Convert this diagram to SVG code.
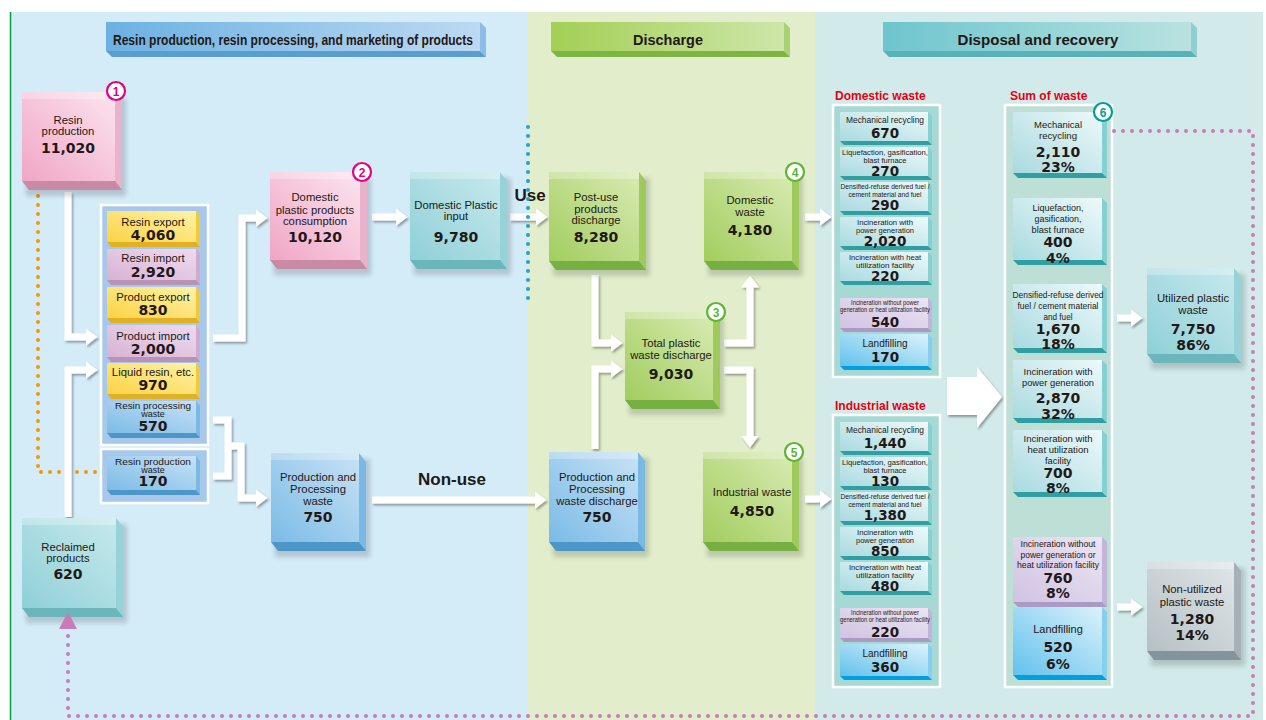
<svg xmlns="http://www.w3.org/2000/svg" width="1266" height="720" viewBox="0 0 1266 720">
<defs>
<linearGradient id="gPk" x1="1" y1="0" x2="0" y2="1"><stop offset="0" stop-color="#fce4ef"/><stop offset="1" stop-color="#f0a6c6"/></linearGradient>
<linearGradient id="gTl" x1="1" y1="0" x2="0" y2="1"><stop offset="0" stop-color="#c6e9ed"/><stop offset="1" stop-color="#8fd0d7"/></linearGradient>
<linearGradient id="gGr" x1="1" y1="0" x2="0" y2="1"><stop offset="0" stop-color="#d8ebb3"/><stop offset="1" stop-color="#a2cd5e"/></linearGradient>
<linearGradient id="gBl" x1="1" y1="0" x2="0" y2="1"><stop offset="0" stop-color="#c8e2f5"/><stop offset="1" stop-color="#7bbbe6"/></linearGradient>
<linearGradient id="gGy" x1="1" y1="0" x2="0" y2="1"><stop offset="0" stop-color="#e0e6e9"/><stop offset="1" stop-color="#b5c0c5"/></linearGradient>
<linearGradient id="gYe" x1="1" y1="0" x2="0" y2="1"><stop offset="0" stop-color="#fff3a8"/><stop offset="1" stop-color="#fbd244"/></linearGradient>
<linearGradient id="gPu" x1="1" y1="0" x2="0" y2="1"><stop offset="0" stop-color="#efdaee"/><stop offset="1" stop-color="#d7b3d4"/></linearGradient>
<linearGradient id="gLt" x1="1" y1="0" x2="0" y2="1"><stop offset="0" stop-color="#eef9fa"/><stop offset="1" stop-color="#a8dae0"/></linearGradient>
<linearGradient id="gLp" x1="1" y1="0" x2="0" y2="1"><stop offset="0" stop-color="#ece5f3"/><stop offset="1" stop-color="#d0c3e3"/></linearGradient>
<linearGradient id="gLb" x1="1" y1="0" x2="0" y2="1"><stop offset="0" stop-color="#dcf2fb"/><stop offset="1" stop-color="#62c1ed"/></linearGradient>
<linearGradient id="gHb" x1="0" y1="0" x2="1" y2="0"><stop offset="0" stop-color="#6cb1e2"/><stop offset="1" stop-color="#bcd9f2"/></linearGradient>
<linearGradient id="gHg" x1="0" y1="0" x2="1" y2="0"><stop offset="0" stop-color="#a3cf55"/><stop offset="1" stop-color="#cde6a8"/></linearGradient>
<linearGradient id="gHt" x1="0" y1="0" x2="1" y2="0"><stop offset="0" stop-color="#6ec5ce"/><stop offset="1" stop-color="#b9e2e0"/></linearGradient>
<filter id="bl" x="-20%" y="-20%" width="140%" height="140%"><feGaussianBlur stdDeviation="2.5"/></filter>
<filter id="ds" x="-10%" y="-10%" width="120%" height="120%"><feDropShadow dx="1.5" dy="2" stdDeviation="1" flood-color="#000" flood-opacity="0.35"/></filter>
<marker id="ah" markerUnits="userSpaceOnUse" markerWidth="12" markerHeight="18" viewBox="0 0 12 18" refX="0.5" refY="9" orient="auto"><path d="M0,0 L12,9 L0,18 Z" fill="#fff"/></marker>
</defs>
<style>
.lb{font-family:"Liberation Sans",Arial,sans-serif;fill:#231815;text-anchor:middle}
.m{font-size:11.3px}
.sm{font-size:9px}
.lf10{font-size:10px}
.c{font-size:8px}
.c85{font-size:8.5px}
.c8{font-size:7.5px}
.c7{font-size:6.5px}
.c10{font-size:9.5px}
.n{font-family:"DejaVu Sans",Verdana,sans-serif;font-weight:bold;font-size:14px;fill:#231815;text-anchor:middle}
.nl{font-size:13.5px}
.hd{font-family:"Liberation Sans",Arial,sans-serif;font-weight:bold;font-size:14px;fill:#231815;text-anchor:middle}
.rd{font-family:"Liberation Sans",Arial,sans-serif;font-weight:bold;font-size:12px;fill:#e60012}
.big{font-family:"Liberation Sans",Arial,sans-serif;font-weight:bold;font-size:17px;fill:#231815;text-anchor:middle}
.sh{fill:#000;opacity:.16;filter:url(#bl)}
.hl{fill:#fff;opacity:.28}
.pk .f{fill:url(#gPk)} .pk .s{fill:#e8b3cb} .pk .b{fill:#c88aa5}
.tl .f{fill:url(#gTl)} .tl .s{fill:#96d2d8} .tl .b{fill:#6ab6bb}
.gr .f{fill:url(#gGr)} .gr .s{fill:#9dca5a} .gr .b{fill:#76b042}
.bu .f{fill:url(#gBl)} .bu .s{fill:#7ab9e6} .bu .b{fill:#4d97c8}
.gy .f{fill:url(#gGy)} .gy .s{fill:#a6b1b6} .gy .b{fill:#85939c}
.ye .f{fill:url(#gYe)} .ye .s{fill:#f3c93a} .ye .b{fill:#e2b023}
.pu .f{fill:url(#gPu)} .pu .s{fill:#cfaacd} .pu .b{fill:#b993b6}
.lt .f{fill:url(#gLt)} .lt .s{fill:#86cfd3} .lt .b{fill:#2f9fa3}
.lp .f{fill:url(#gLp)} .lp .s{fill:#c3b4da} .lp .b{fill:#ab9bc4}
.lf .f{fill:url(#gLb)} .lf .s{fill:#86cff1} .lf .b{fill:#00a0e0}
.cont{stroke:#fff;stroke-width:2.5}
.ar{fill:none;stroke:#fff;stroke-width:7;stroke-linejoin:miter;marker-end:url(#ah)}
.ar0{fill:none;stroke:#fff;stroke-width:7;stroke-linejoin:miter}
.dot{fill:none;stroke-linecap:round;stroke-width:4;stroke-dasharray:0 9}
.cn circle{fill:#fff;stroke-width:2.2}
.cn text{font-family:"Liberation Sans",Arial,sans-serif;font-weight:bold;font-size:12px;text-anchor:middle}
</style>

<!-- background panels -->
<rect x="0" y="0" width="1266" height="720" fill="#fff"/>
<rect x="11" y="12" width="517" height="708" fill="#d4ebf8"/>
<rect x="528" y="12" width="287" height="708" fill="#e2eecb"/>
<rect x="815" y="12" width="448" height="708" fill="#d3eaea"/>
<line x1="10.5" y1="12" x2="10.5" y2="720" stroke="#00a040" stroke-width="1.5"/>

<!-- section headers -->
<g id="hdr-resin">
<rect x="106" y="22" width="374" height="29" fill="url(#gHb)"/>
<polygon points="480,22 486,28 486,57 480,51" fill="#8dbde6"/>
<polygon points="106,51 480,51 486,57 112,57" fill="#5a9dd0"/>
<text class="hd" x="293" y="45" textLength="360" lengthAdjust="spacingAndGlyphs">Resin production, resin processing, and marketing of products</text>
</g>
<g id="hdr-discharge">
<rect x="551" y="22" width="233" height="29" fill="url(#gHg)"/>
<polygon points="784,22 790,28 790,57 784,51" fill="#a9d274"/>
<polygon points="551,51 784,51 790,57 557,57" fill="#7cb544"/>
<text class="hd" x="668" y="45" textLength="70" lengthAdjust="spacingAndGlyphs">Discharge</text>
</g>
<g id="hdr-disposal">
<rect x="883" y="22" width="308" height="29" fill="url(#gHt)"/>
<polygon points="1191,22 1197,28 1197,57 1191,51" fill="#8fcfd2"/>
<polygon points="883,51 1191,51 1197,57 889,57" fill="#58b2b6"/>
<text class="hd" x="1038" y="45" textLength="161" lengthAdjust="spacingAndGlyphs">Disposal and recovery</text>
</g>

<!-- dotted orange line (under arrows) -->
<path class="dot" d="M38,196 V472 H97" stroke="#f39800"/>

<!-- connectors -->
<g id="connectors" filter="url(#ds)">
<path class="ar" d="M68,192 V337 H86"/>
<path class="ar" d="M68,517 V370 H86"/>
<path class="ar" d="M213,338 H242 V218 H256"/>
<path class="ar0" d="M213,420 H228 V476 H213"/>
<path class="ar" d="M228,446 H241 V498 H256"/>
<path class="ar" d="M372,217 H396"/>
<path class="ar" d="M510,217 H536"/>
<path class="ar" d="M372,500 H535"/>
<path class="ar" d="M595,275 V343 H611"/>
<path class="ar" d="M595,449 V369 H611"/>
<path class="ar" d="M724,343 H750 V287"/>
<path class="ar" d="M724,370 H750 V436"/>
<path class="ar" d="M805,217 H820"/>
<path class="ar" d="M805,499 H820"/>
<path class="ar" d="M1117,318 H1131"/>
<path class="ar" d="M1117,607 H1131"/>
<polygon points="947,377 977,377 977,367 1002,397 977,428 977,415 947,415" fill="#fff"/>
</g>

<!-- Resin production -->
<g id="n-resin-production" class="pk">
<rect class="sh" x="26" y="98" width="100" height="98"/>
<rect class="f" x="22" y="92" width="93" height="89"/>
<polygon class="s" points="115,92 122,101 122,190 115,181"/>
<polygon class="b" points="22,181 115,181 122,190 29,190"/>
<rect class="hl" x="22" y="92" width="93" height="7"/>
<text class="lb m" x="68" y="124">Resin</text>
<text class="lb m" x="68" y="135">production</text>
<text class="n" x="68" y="153">11,020</text>
<g class="cn"><circle cx="116" cy="91" r="9" stroke="#e4007f"/><text x="116" y="95.5" fill="#e4007f">1</text></g>
</g>

<!-- left column container -->
<g id="n-trade">
<rect class="cont" x="101" y="205" width="107" height="240" fill="#a7c8ea"/>
<g class="ye"><rect class="f" x="107" y="211" width="89" height="31"/><polygon class="s" points="196,211 200,216 200,247 196,242"/><polygon class="b" points="107,242 196,242 200,247 111,247"/>
<text class="lb m" x="153" y="226">Resin export</text><text class="n" x="153" y="240">4,060</text></g>
<g class="pu"><rect class="f" x="107" y="249" width="89" height="31"/><polygon class="s" points="196,249 200,254 200,285 196,280"/><polygon class="b" points="107,280 196,280 200,285 111,285"/>
<text class="lb m" x="153" y="262">Resin import</text><text class="n" x="153" y="277">2,920</text></g>
<g class="ye"><rect class="f" x="107" y="287" width="89" height="31"/><polygon class="s" points="196,287 200,292 200,323 196,318"/><polygon class="b" points="107,318 196,318 200,323 111,323"/>
<text class="lb m" x="153" y="301">Product export</text><text class="n" x="153" y="315">830</text></g>
<g class="pu"><rect class="f" x="107" y="325" width="89" height="32"/><polygon class="s" points="196,325 200,330 200,362 196,357"/><polygon class="b" points="107,357 196,357 200,362 111,362"/>
<text class="lb m" x="153" y="340">Product import</text><text class="n" x="153" y="354">2,000</text></g>
<g class="ye"><rect class="f" x="107" y="363" width="89" height="31"/><polygon class="s" points="196,363 200,368 200,399 196,394"/><polygon class="b" points="107,394 196,394 200,399 111,399"/>
<text class="lb m" x="153" y="376">Liquid resin, etc.</text><text class="n" x="153" y="390">970</text></g>
<g class="bu"><rect class="f" x="107" y="401" width="89" height="32"/><polygon class="s" points="196,401 200,406 200,438 196,433"/><polygon class="b" points="107,433 196,433 200,438 111,438"/>
<text class="lb sm" x="153" y="408.5" textLength="76" lengthAdjust="spacingAndGlyphs">Resin processing</text><text class="lb sm" x="153" y="416.5">waste</text><text class="n" x="153" y="431">570</text></g>
</g>
<g id="n-resin-production-waste">
<rect class="cont" x="101" y="449" width="107" height="54" fill="#a7c8ea"/>
<g class="bu"><rect class="f" x="107" y="456" width="89" height="34"/><polygon class="s" points="196,456 200,461 200,495 196,490"/><polygon class="b" points="107,490 196,490 200,495 111,495"/>
<text class="lb sm" x="153" y="464.5" textLength="76" lengthAdjust="spacingAndGlyphs">Resin production</text><text class="lb sm" x="153" y="472.5">waste</text><text class="n" x="153" y="486">170</text></g>
</g>

<!-- Domestic plastic products consumption -->
<g id="n-consumption" class="pk">
<rect class="sh" x="274" y="178" width="97" height="97"/>
<rect class="f" x="270" y="172" width="90" height="88"/>
<polygon class="s" points="360,172 367,181 367,269 360,260"/>
<polygon class="b" points="270,260 360,260 367,269 277,269"/>
<rect class="hl" x="270" y="172" width="90" height="7"/>
<text class="lb m" x="315" y="201">Domestic</text>
<text class="lb m" x="315" y="214">plastic products</text>
<text class="lb m" x="315" y="225">consumption</text>
<text class="n" x="315" y="242">10,120</text>
<g class="cn"><circle cx="362" cy="172" r="9" stroke="#e4007f"/><text x="362" y="176.5" fill="#e4007f">2</text></g>
</g>

<!-- Domestic plastic input -->
<g id="n-input" class="tl">
<rect class="sh" x="414" y="178" width="97" height="97"/>
<rect class="f" x="410" y="172" width="90" height="88"/>
<polygon class="s" points="500,172 507,181 507,269 500,260"/>
<polygon class="b" points="410,260 500,260 507,269 417,269"/>
<rect class="hl" x="410" y="172" width="90" height="7"/>
<text class="lb m" x="456" y="209">Domestic Plastic</text>
<text class="lb m" x="456" y="220">input</text>
<text class="n" x="456" y="242">9,780</text>
</g>

<text id="lbl-use" class="big" x="530" y="201">Use</text>
<text id="lbl-nonuse" class="big" x="452" y="485">Non-use</text>

<!-- Post-use products discharge -->
<g id="n-postuse" class="gr">
<rect class="sh" x="553" y="178" width="97" height="98"/>
<rect class="f" x="549" y="172" width="90" height="89"/>
<polygon class="s" points="639,172 646,181 646,270 639,261"/>
<polygon class="b" points="549,261 639,261 646,270 556,270"/>
<rect class="hl" x="549" y="172" width="90" height="7"/>
<text class="lb m" x="596" y="201">Post-use</text>
<text class="lb m" x="596" y="213">products</text>
<text class="lb m" x="596" y="224">discharge</text>
<text class="n" x="596" y="242">8,280</text>
</g>

<!-- Domestic waste -->
<g id="n-domestic-waste" class="gr">
<rect class="sh" x="708" y="178" width="95" height="98"/>
<rect class="f" x="704" y="172" width="88" height="89"/>
<polygon class="s" points="792,172 799,181 799,270 792,261"/>
<polygon class="b" points="704,261 792,261 799,270 711,270"/>
<rect class="hl" x="704" y="172" width="88" height="7"/>
<text class="lb m" x="750" y="204">Domestic</text>
<text class="lb m" x="750" y="216">waste</text>
<text class="n" x="750" y="235">4,180</text>
<g class="cn"><circle cx="795" cy="172" r="9" stroke="#5cb531"/><text x="795" y="176.5" fill="#5cb531">4</text></g>
</g>

<!-- Total plastic waste discharge -->
<g id="n-total" class="gr">
<rect class="sh" x="629" y="318" width="95" height="97"/>
<rect class="f" x="625" y="312" width="88" height="88"/>
<polygon class="s" points="713,312 720,321 720,409 713,400"/>
<polygon class="b" points="625,400 713,400 720,409 632,409"/>
<rect class="hl" x="625" y="312" width="88" height="7"/>
<text class="lb m" x="671" y="347">Total plastic</text>
<text class="lb m" x="671" y="359">waste discharge</text>
<text class="n" x="671" y="379">9,030</text>
<g class="cn"><circle cx="716" cy="312" r="9" stroke="#5cb531"/><text x="716" y="316.5" fill="#5cb531">3</text></g>
</g>

<!-- Production and processing waste -->
<g id="n-pp-waste" class="bu">
<rect class="sh" x="275" y="459" width="95" height="98"/>
<rect class="f" x="271" y="453" width="88" height="89"/>
<polygon class="s" points="359,453 366,462 366,551 359,542"/>
<polygon class="b" points="271,542 359,542 366,551 278,551"/>
<rect class="hl" x="271" y="453" width="88" height="7"/>
<text class="lb m" x="318" y="481">Production and</text>
<text class="lb m" x="318" y="493">Processing</text>
<text class="lb m" x="318" y="505">waste</text>
<text class="n" x="318" y="522">750</text>
</g>

<!-- Production and processing waste discharge -->
<g id="n-pp-discharge" class="bu">
<rect class="sh" x="553" y="458" width="96" height="99"/>
<rect class="f" x="549" y="452" width="89" height="90"/>
<polygon class="s" points="638,452 645,461 645,551 638,542"/>
<polygon class="b" points="549,542 638,542 645,551 556,551"/>
<rect class="hl" x="549" y="452" width="89" height="7"/>
<text class="lb m" x="597" y="481">Production and</text>
<text class="lb m" x="597" y="493">Processing</text>
<text class="lb m" x="597" y="505">waste discharge</text>
<text class="n" x="597" y="522">750</text>
</g>

<!-- Industrial waste -->
<g id="n-industrial-waste" class="gr">
<rect class="sh" x="707" y="458" width="96" height="99"/>
<rect class="f" x="703" y="452" width="89" height="90"/>
<polygon class="s" points="792,452 799,461 799,551 792,542"/>
<polygon class="b" points="703,542 792,542 799,551 710,551"/>
<rect class="hl" x="703" y="452" width="89" height="7"/>
<text class="lb m" x="752" y="496">Industrial waste</text>
<text class="n" x="752" y="516">4,850</text>
<g class="cn"><circle cx="794" cy="452" r="9" stroke="#5cb531"/><text x="794" y="456.5" fill="#5cb531">5</text></g>
</g>

<!-- Reclaimed products -->
<g id="n-reclaimed" class="tl">
<rect class="sh" x="26" y="524" width="101" height="99"/>
<rect class="f" x="22" y="518" width="94" height="90"/>
<polygon class="s" points="116,518 123,527 123,617 116,608"/>
<polygon class="b" points="22,608 116,608 123,617 29,617"/>
<rect class="hl" x="22" y="518" width="94" height="7"/>
<text class="lb m" x="68" y="551">Reclaimed</text>
<text class="lb m" x="68" y="562">products</text>
<text class="n" x="68" y="579">620</text>
</g>

<!-- Domestic waste breakdown -->
<g id="n-domestic-list">
<text class="rd" x="835" y="100">Domestic waste</text>
<rect class="cont" x="833" y="105" width="107" height="272" fill="#a6d8d4"/>
<g class="lt"><rect class="f" x="840" y="112" width="88" height="29"/><polygon class="s" points="928,112 932,116 932,145 928,141"/><polygon class="b" points="840,141 928,141 932,145 844,145"/>
<text class="lb c85" x="885" y="123" textLength="78" lengthAdjust="spacingAndGlyphs">Mechanical recycling</text><text class="n nl" x="885" y="138">670</text></g>
<g class="lt"><rect class="f" x="840" y="147" width="88" height="29"/><polygon class="s" points="928,147 932,151 932,180 928,176"/><polygon class="b" points="840,176 928,176 932,180 844,180"/>
<text class="lb c" x="885" y="154.5" textLength="86" lengthAdjust="spacingAndGlyphs">Liquefaction, gasification,</text><text class="lb c" x="885" y="162.5" textLength="43" lengthAdjust="spacingAndGlyphs">blast furnace</text><text class="n nl" x="885" y="175.5">270</text></g>
<g class="lt"><rect class="f" x="840" y="182" width="88" height="29"/><polygon class="s" points="928,182 932,186 932,215 928,211"/><polygon class="b" points="840,211 928,211 932,215 844,215"/>
<text class="lb c8" x="885" y="189" textLength="89" lengthAdjust="spacingAndGlyphs">Densified-refuse derived fuel /</text><text class="lb c8" x="885" y="196.5" textLength="73" lengthAdjust="spacingAndGlyphs">cement material and fuel</text><text class="n nl" x="885" y="210">290</text></g>
<g class="lt"><rect class="f" x="840" y="217" width="88" height="29"/><polygon class="s" points="928,217 932,221 932,250 928,246"/><polygon class="b" points="840,246 928,246 932,250 844,250"/>
<text class="lb c" x="885" y="224.5" textLength="56" lengthAdjust="spacingAndGlyphs">Incineration with</text><text class="lb c" x="885" y="232.5" textLength="58" lengthAdjust="spacingAndGlyphs">power generation</text><text class="n nl" x="885" y="245.5">2,020</text></g>
<g class="lt"><rect class="f" x="840" y="252" width="88" height="29"/><polygon class="s" points="928,252 932,256 932,285 928,281"/><polygon class="b" points="840,281 928,281 932,285 844,285"/>
<text class="lb c" x="885" y="259.5" textLength="72" lengthAdjust="spacingAndGlyphs">Incineration with heat</text><text class="lb c" x="885" y="267.5" textLength="58" lengthAdjust="spacingAndGlyphs">utilization facility</text><text class="n nl" x="885" y="280.5">220</text></g>
<g class="lp"><rect class="f" x="840" y="298" width="88" height="30"/><polygon class="s" points="928,298 932,302 932,332 928,328"/><polygon class="b" points="840,328 928,328 932,332 844,332"/>
<text class="lb c7" x="885" y="305" textLength="68" lengthAdjust="spacingAndGlyphs">Incineration without power</text><text class="lb c7" x="885" y="312" textLength="90" lengthAdjust="spacingAndGlyphs">generation or heat utilization facility</text><text class="n nl" x="885" y="327">540</text></g>
<g class="lf"><rect class="f" x="840" y="334" width="88" height="32"/><polygon class="s" points="928,334 932,338 932,370 928,366"/><polygon class="b" points="840,366 928,366 932,370 844,370"/>
<text class="lb lf10" x="885" y="347">Landfilling</text><text class="n nl" x="885" y="362">170</text></g>
</g>

<!-- Industrial waste breakdown -->
<g id="n-industrial-list" transform="translate(0,310)">
<text class="rd" x="835" y="100">Industrial waste</text>
<rect class="cont" x="833" y="105" width="107" height="272" fill="#a6d8d4"/>
<g class="lt"><rect class="f" x="840" y="112" width="88" height="29"/><polygon class="s" points="928,112 932,116 932,145 928,141"/><polygon class="b" points="840,141 928,141 932,145 844,145"/>
<text class="lb c85" x="885" y="123" textLength="78" lengthAdjust="spacingAndGlyphs">Mechanical recycling</text><text class="n nl" x="885" y="138">1,440</text></g>
<g class="lt"><rect class="f" x="840" y="147" width="88" height="29"/><polygon class="s" points="928,147 932,151 932,180 928,176"/><polygon class="b" points="840,176 928,176 932,180 844,180"/>
<text class="lb c" x="885" y="154.5" textLength="86" lengthAdjust="spacingAndGlyphs">Liquefaction, gasification,</text><text class="lb c" x="885" y="162.5" textLength="43" lengthAdjust="spacingAndGlyphs">blast furnace</text><text class="n nl" x="885" y="175.5">130</text></g>
<g class="lt"><rect class="f" x="840" y="182" width="88" height="29"/><polygon class="s" points="928,182 932,186 932,215 928,211"/><polygon class="b" points="840,211 928,211 932,215 844,215"/>
<text class="lb c8" x="885" y="189" textLength="89" lengthAdjust="spacingAndGlyphs">Densified-refuse derived fuel /</text><text class="lb c8" x="885" y="196.5" textLength="73" lengthAdjust="spacingAndGlyphs">cement material and fuel</text><text class="n nl" x="885" y="210">1,380</text></g>
<g class="lt"><rect class="f" x="840" y="217" width="88" height="29"/><polygon class="s" points="928,217 932,221 932,250 928,246"/><polygon class="b" points="840,246 928,246 932,250 844,250"/>
<text class="lb c" x="885" y="224.5" textLength="56" lengthAdjust="spacingAndGlyphs">Incineration with</text><text class="lb c" x="885" y="232.5" textLength="58" lengthAdjust="spacingAndGlyphs">power generation</text><text class="n nl" x="885" y="245.5">850</text></g>
<g class="lt"><rect class="f" x="840" y="252" width="88" height="29"/><polygon class="s" points="928,252 932,256 932,285 928,281"/><polygon class="b" points="840,281 928,281 932,285 844,285"/>
<text class="lb c" x="885" y="259.5" textLength="72" lengthAdjust="spacingAndGlyphs">Incineration with heat</text><text class="lb c" x="885" y="267.5" textLength="58" lengthAdjust="spacingAndGlyphs">utilization facility</text><text class="n nl" x="885" y="280.5">480</text></g>
<g class="lp"><rect class="f" x="840" y="298" width="88" height="30"/><polygon class="s" points="928,298 932,302 932,332 928,328"/><polygon class="b" points="840,328 928,328 932,332 844,332"/>
<text class="lb c7" x="885" y="305" textLength="68" lengthAdjust="spacingAndGlyphs">Incineration without power</text><text class="lb c7" x="885" y="312" textLength="90" lengthAdjust="spacingAndGlyphs">generation or heat utilization facility</text><text class="n nl" x="885" y="327">220</text></g>
<g class="lf"><rect class="f" x="840" y="334" width="88" height="32"/><polygon class="s" points="928,334 932,338 932,370 928,366"/><polygon class="b" points="840,366 928,366 932,370 844,370"/>
<text class="lb lf10" x="885" y="347">Landfilling</text><text class="n nl" x="885" y="362">360</text></g>
</g>

<!-- Sum of waste -->
<g id="n-sum">
<text class="rd" x="1010" y="100">Sum of waste</text>
<rect class="cont" x="1005" y="105" width="107" height="582" fill="#bddfd6"/>
<g class="lt"><rect class="f" x="1013" y="112" width="89" height="61"/><polygon class="s" points="1102,112 1107,117 1107,178 1102,173"/><polygon class="b" points="1013,173 1102,173 1107,178 1018,178"/>
<text class="lb c10" x="1058" y="128" textLength="48" lengthAdjust="spacingAndGlyphs">Mechanical</text><text class="lb c10" x="1058" y="139" textLength="38" lengthAdjust="spacingAndGlyphs">recycling</text><text class="n" x="1058" y="157">2,110</text><text class="n" x="1058" y="172">23%</text></g>
<g class="lt"><rect class="f" x="1013" y="198" width="89" height="62"/><polygon class="s" points="1102,198 1107,203 1107,265 1102,260"/><polygon class="b" points="1013,260 1102,260 1107,265 1018,265"/>
<text class="lb c10" x="1058" y="211" textLength="51" lengthAdjust="spacingAndGlyphs">Liquefaction,</text><text class="lb c10" x="1058" y="222" textLength="47" lengthAdjust="spacingAndGlyphs">gasification,</text><text class="lb c10" x="1058" y="233" textLength="53" lengthAdjust="spacingAndGlyphs">blast furnace</text><text class="n" x="1058" y="247">400</text><text class="n" x="1058" y="263">4%</text></g>
<g class="lt"><rect class="f" x="1013" y="284" width="89" height="64"/><polygon class="s" points="1102,284 1107,289 1107,353 1102,348"/><polygon class="b" points="1013,348 1102,348 1107,353 1018,353"/>
<text class="lb c10" x="1058" y="298" textLength="91" lengthAdjust="spacingAndGlyphs">Densified-refuse derived</text><text class="lb c10" x="1058" y="309" textLength="81" lengthAdjust="spacingAndGlyphs">fuel / cement material</text><text class="lb c10" x="1058" y="320" textLength="29" lengthAdjust="spacingAndGlyphs">and fuel</text><text class="n" x="1058" y="334">1,670</text><text class="n" x="1058" y="349">18%</text></g>
<g class="lt"><rect class="f" x="1013" y="360" width="89" height="58"/><polygon class="s" points="1102,360 1107,365 1107,423 1102,418"/><polygon class="b" points="1013,418 1102,418 1107,423 1018,423"/>
<text class="lb c10" x="1058" y="375" textLength="69" lengthAdjust="spacingAndGlyphs">Incineration with</text><text class="lb c10" x="1058" y="386" textLength="72" lengthAdjust="spacingAndGlyphs">power generation</text><text class="n" x="1058" y="403">2,870</text><text class="n" x="1058" y="419">32%</text></g>
<g class="lt"><rect class="f" x="1013" y="430" width="89" height="62"/><polygon class="s" points="1102,430 1107,435 1107,497 1102,492"/><polygon class="b" points="1013,492 1102,492 1107,497 1018,497"/>
<text class="lb c10" x="1058" y="442" textLength="69" lengthAdjust="spacingAndGlyphs">Incineration with</text><text class="lb c10" x="1058" y="453" textLength="61" lengthAdjust="spacingAndGlyphs">heat utilization</text><text class="lb c10" x="1058" y="464" textLength="26" lengthAdjust="spacingAndGlyphs">facility</text><text class="n" x="1058" y="478">700</text><text class="n" x="1058" y="493">8%</text></g>
<g class="lp"><rect class="f" x="1013" y="537" width="89" height="65"/><polygon class="s" points="1102,537 1107,542 1107,607 1102,602"/><polygon class="b" points="1013,602 1102,602 1107,607 1018,607"/>
<text class="lb c10" x="1058" y="547" textLength="75" lengthAdjust="spacingAndGlyphs">Incineration without</text><text class="lb c10" x="1058" y="557.5" textLength="75" lengthAdjust="spacingAndGlyphs">power generation or</text><text class="lb c10" x="1058" y="568" textLength="82" lengthAdjust="spacingAndGlyphs">heat utilization facility</text><text class="n" x="1058" y="583">760</text><text class="n" x="1058" y="598">8%</text></g>
<g class="lf"><rect class="f" x="1013" y="607" width="89" height="68"/><polygon class="s" points="1102,607 1107,612 1107,680 1102,675"/><polygon class="b" points="1013,675 1102,675 1107,680 1018,680"/>
<text class="lb" x="1058" y="633" font-size="11">Landfilling</text><text class="n" x="1058" y="652">520</text><text class="n" x="1058" y="669">6%</text></g>
<g class="cn"><circle cx="1103" cy="112" r="9" stroke="#009e96"/><text x="1103" y="116.5" fill="#009e96">6</text></g>
</g>

<!-- Utilized plastic waste -->
<g id="n-utilized" class="tl">
<rect class="sh" x="1151" y="274" width="94" height="95"/>
<rect class="f" x="1147" y="268" width="87" height="86"/>
<polygon class="s" points="1234,268 1241,277 1241,363 1234,354"/>
<polygon class="b" points="1147,354 1234,354 1241,363 1154,363"/>
<rect class="hl" x="1147" y="268" width="87" height="7"/>
<text class="lb m" x="1193" y="302">Utilized plastic</text>
<text class="lb m" x="1193" y="314">waste</text>
<text class="n" x="1193" y="334">7,750</text>
<text class="n" x="1193" y="350">86%</text>
</g>

<!-- Non-utilized plastic waste -->
<g id="n-nonutilized" class="gy">
<rect class="sh" x="1151" y="568" width="94" height="98"/>
<rect class="f" x="1147" y="562" width="87" height="89"/>
<polygon class="s" points="1234,562 1241,571 1241,660 1234,651"/>
<polygon class="b" points="1147,651 1234,651 1241,660 1154,660"/>
<rect class="hl" x="1147" y="562" width="87" height="7"/>
<text class="lb m" x="1192" y="593">Non-utilized</text>
<text class="lb m" x="1192" y="606">plastic waste</text>
<text class="n" x="1192" y="624">1,280</text>
<text class="n" x="1192" y="640">14%</text>
</g>

<!-- dotted lines on top -->
<g id="dotted">
<path class="dot" d="M528,127 V305" stroke="#1ba0e2"/>
<path class="dot" d="M1114,131 H1253 V716 H68 V632" stroke="#c77bb7" stroke-width="3.5" stroke-dasharray="0 8.5"/>
<polygon points="68,612 59,629 77,629" fill="#c77bb7"/>
</g>
</svg>
